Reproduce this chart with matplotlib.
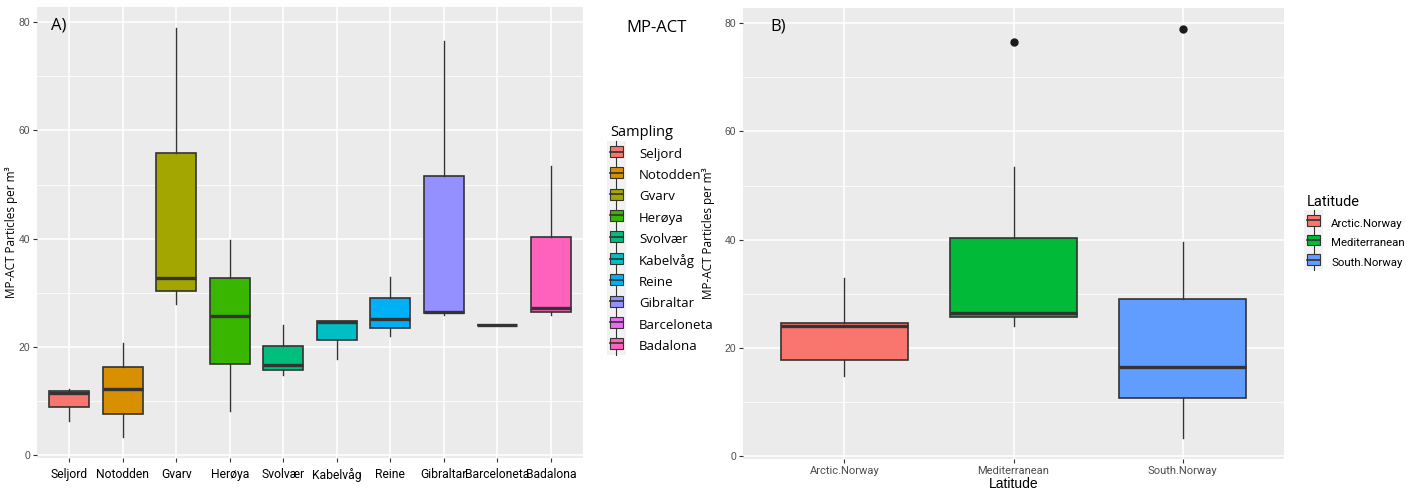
import matplotlib
matplotlib.use("Agg")
import matplotlib.pyplot as plt
from matplotlib.patches import Rectangle
from matplotlib.lines import Line2D
from matplotlib.legend_handler import HandlerBase

# panel A: by sampling site
sites = ['Seljord', 'Notodden', 'Gvarv', 'Herøya', 'Svolvær', 'Kabelvåg',
         'Reine', 'Gibraltar', 'Barceloneta', 'Badalona']
site_colors = ['#F8766D', '#D89000', '#A3A500', '#39B600', '#00BF7D',
               '#00BFC4', '#00B0F6', '#9590FF', '#E76BF3', '#FF62BC']
site_lo = [6.4, 3.3, 28.0, 8.1, 14.9, 17.8, 22.0, 26.0, 24.0, 26.0]
site_q1 = [9.0, 7.7, 30.3, 16.9, 15.8, 21.3, 23.6, 26.3, 24.0, 26.5]
site_med = [11.5, 12.2, 32.8, 25.8, 16.6, 24.7, 25.2, 26.4, 24.0, 27.2]
site_q3 = [11.9, 16.4, 55.9, 32.7, 20.2, 24.8, 29.0, 51.5, 24.0, 40.3]
site_hi = [12.2, 20.7, 79.0, 39.7, 24.0, 24.8, 33.0, 76.6, 24.0, 53.5]

# panel B: by latitude group
groups = ['Arctic.Norway', 'Mediterranean', 'South.Norway']
group_colors = ['#F8766D', '#00BA38', '#619CFF']
grp_lo = [14.9, 24.1, 3.4]
grp_q1 = [17.8, 25.8, 10.8]
grp_med = [24.0, 26.4, 16.5]
grp_q3 = [24.7, 40.3, 29.1]
grp_hi = [33.0, 53.5, 39.5]
grp_out = [[], [76.6], [79.0]]

ylab = 'MP-ACT Particles per m³'
narrow = ['Roboto', 'DejaVu Sans']


class BoxKey(HandlerBase):
    def create_artists(self, legend, orig, xd, yd, w, h, fs, trans):
        col = orig.get_facecolor()
        arts = []
        bg = Rectangle((xd - 2, yd - 4), w + 4, h + 8, facecolor='#F2F2F2',
                       edgecolor='none', transform=trans)
        arts.append(bg)
        cx = xd + w / 2
        arts.append(Line2D([cx, cx], [yd - 4, yd + h + 4], color='#333333',
                           lw=0.8, transform=trans))
        arts.append(Rectangle((xd, yd), w, h, facecolor=col,
                              edgecolor='#333333', lw=0.8, transform=trans))
        arts.append(Line2D([xd, xd + w], [yd + h / 2, yd + h / 2],
                           color='#333333', lw=1.2, transform=trans))
        return arts


def gg_axes(ax, n):
    ax.set_facecolor('#EBEBEB')
    for s in ax.spines.values():
        s.set_visible(False)
    ax.set_ylim(-0.5, 82.8)
    ax.set_xlim(0.4, n + 0.6)
    ax.set_yticks([0, 20, 40, 60, 80])
    ax.set_yticks([10, 30, 50, 70], minor=True)
    ax.set_xticks(range(1, n + 1))
    ax.grid(which='major', color='white', lw=1.1)
    ax.grid(which='minor', axis='y', color='white', lw=0.55)
    ax.set_axisbelow(True)
    ax.tick_params(axis='both', which='major', length=3, color='#333333',
                   width=0.8, labelcolor='#4D4D4D', labelsize=7.5, pad=2)
    ax.tick_params(which='minor', length=0)


def draw_boxes(ax, lo, q1, med, q3, hi, colors, fliers=None):
    stats = []
    for i in range(len(lo)):
        stats.append({'whislo': lo[i], 'q1': q1[i], 'med': med[i],
                      'q3': q3[i], 'whishi': hi[i],
                      'fliers': fliers[i] if fliers else []})
    bp = ax.bxp(stats, positions=range(1, len(lo) + 1), widths=0.75,
                patch_artist=True, showcaps=False, manage_ticks=False,
                boxprops=dict(edgecolor='#333333', lw=1.2),
                whiskerprops=dict(color='#333333', lw=1.0),
                medianprops=dict(color='#333333', lw=2.4),
                flierprops=dict(marker='o', markersize=5,
                                markerfacecolor='#1A1A1A',
                                markeredgecolor='#1A1A1A'))
    for patch, c in zip(bp['boxes'], colors):
        patch.set_facecolor(c)
    return bp


fig = plt.figure(figsize=(14.07, 4.91), dpi=100)
plt.rcParams['font.family'] = ['Liberation Sans', 'DejaVu Sans']

axA = fig.add_axes([37 / 1407, 33 / 491, 546 / 1407, 451 / 491])
gg_axes(axA, len(sites))
draw_boxes(axA, site_lo, site_q1, site_med, site_q3, site_hi, site_colors)
axA.set_xticklabels(sites, fontsize=8.7, color='black', family=narrow)
axA.tick_params(axis='x', labelcolor='black', pad=4)
axA.set_ylabel(ylab, fontsize=8.5, family='Open Sans', va='center')
axA.yaxis.set_label_coords(-0.047, 0.5)
axA.text(0.025, 0.96, 'A)', transform=axA.transAxes, fontsize=12,
         family='Open Sans', va='center')
fig.text(657 / 1407, 1 - 28 / 491, 'MP-ACT', fontsize=12, family='Open Sans',
         ha='center', va='center')

handlesA = [Rectangle((0, 0), 1, 1, facecolor=c) for c in site_colors]
legA = fig.legend(handlesA, sites, title='Sampling', loc='upper left',
                  bbox_to_anchor=(598 / 1407, 1 - 113 / 491), frameon=False,
                  handler_map={Rectangle: BoxKey()}, handlelength=1.0,
                  handleheight=0.9, handletextpad=1.2, labelspacing=0.62,
                  prop={'family': 'Open Sans', 'size': 9.5},
                  title_fontproperties={'family': 'Open Sans', 'size': 10.5})
legA._legend_box.align = 'left'

axB = fig.add_axes([743 / 1407, 32 / 491, 541 / 1407, 451 / 491])
gg_axes(axB, len(groups))
draw_boxes(axB, grp_lo, grp_q1, grp_med, grp_q3, grp_hi, group_colors,
           grp_out)
axB.set_xticklabels(groups, family=narrow, fontsize=8)
axB.set_ylabel(ylab, fontsize=8.5, family='Open Sans', va='center')
axB.yaxis.set_label_coords(-0.064, 0.5)
axB.set_xlabel('Latitude', fontsize=10, va='center')
axB.xaxis.set_label_coords(0.5, -0.056)
axB.text(0.05, 0.96, 'B)', transform=axB.transAxes, fontsize=12,
         family='Open Sans', va='center')

handlesB = [Rectangle((0, 0), 1, 1, facecolor=c) for c in group_colors]
legB = fig.legend(handlesB, groups, title='Latitude', loc='upper left',
                  bbox_to_anchor=(1297 / 1407, 1 - 185 / 491), frameon=False,
                  handler_map={Rectangle: BoxKey()}, handlelength=1.1,
                  handleheight=1.0, handletextpad=1.0, labelspacing=0.75,
                  prop={'family': narrow, 'size': 8.2},
                  title_fontproperties={'family': narrow, 'size': 10.5})
legB._legend_box.align = 'left'

fig.savefig('out.png', dpi=100)
